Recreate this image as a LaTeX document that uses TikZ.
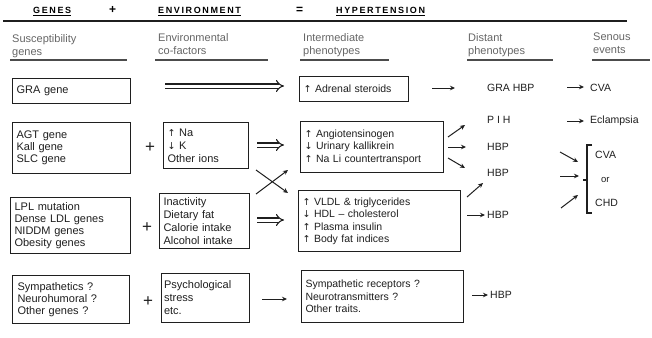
\documentclass[tikz,border=0pt]{standalone}
\usepackage{fontspec}
\setmainfont{Liberation Sans}
\newfontfamily\arrfont{DejaVu Sans}
\usetikzlibrary{arrows.meta}
\newcommand\uparr{{\arrfont\fontsize{9.5}{9.5}\selectfont ↑}}
\newcommand\dnarr{{\arrfont\fontsize{9.5}{9.5}\selectfont ↓}}
\definecolor{ink}{gray}{0.12}
\tikzset{
  box/.style={draw=ink, line width=1.1pt, anchor=north west, align=left, inner xsep=4pt, inner ysep=0pt, text=ink},
  colL/.style={font=\fontsize{11}{12.2}\selectfont},
  colM/.style={font=\fontsize{11}{13}\selectfont},
  colI/.style={font=\fontsize{10.5}{12.5}\selectfont},
  lbl/.style={anchor=west, inner sep=0pt, font=\fontsize{10.5}{12}\selectfont, text=ink},
  hd/.style={anchor=north west, align=left, inner sep=0pt, font=\fontsize{11}{13}\selectfont, text=black!60},
  ttl/.style={anchor=base west, inner sep=0pt, font={\fontsize{9}{10}\selectfont\bfseries\addfontfeatures{LetterSpace=18}}},
  tsym/.style={anchor=base west, inner sep=0pt, font={\fontsize{12}{12}\selectfont\bfseries}},
  plus/.style={inner sep=0pt, font=\fontsize{17}{17}\selectfont, text=ink},
  arr/.style={draw=ink, line width=1pt, -{Stealth[length=5pt,width=4.5pt]}},
  darr/.style={draw=ink, double, double distance=3pt, line width=1.1pt, -Implies},
  rulel/.style={draw=black!70, line width=1.2pt}
}
\begin{document}
\begin{tikzpicture}[x=1pt,y=-1pt]
\useasboundingbox (0,0) rectangle (652,337);
\fill[white] (0,0) rectangle (652,337);

% title row
\node[ttl] (genes) at (33,13.5) {\underline{GENES}};
\node[tsym] (tplus) at (109,14) {+};
\node[ttl] (env) at (158,13.5) {\underline{ENVIRONMENT}};
\node[tsym] (teq) at (296,14) {=};
\node[ttl] (hyp) at (336,13.5) {\underline{HYPERTENSION}};
\coordinate (r0) at (3,21);
\coordinate (r1) at (627,21);
\draw[line width=1.8pt, ink] (r0) -- (r1);

% column headers
\node[hd] (h1) at (12,34) {Susceptibility\\genes};
\node[hd] (h2) at (158,33) {Environmental\\co-factors};
\node[hd] (h3) at (303,33) {Intermediate\\phenotypes};
\node[hd] (h4) at (468,33) {Distant\\phenotypes};
\node[hd] (h5) at (593,33) {Senous\\events};
\draw[rulel] (10,60) -- (127,60);
\draw[rulel] (155,60) -- (268,60);
\draw[rulel] (300,60) -- (389,60);
\draw[rulel] (467,60) -- (553,60);
\draw[rulel] (592,60) -- (650,60);

% row 1
\node[box, colL, text width=110pt, minimum height=25pt] (gra) at (12,78) {GRA gene};
\node[box, colI, text width=101pt, minimum height=25pt] (adr) at (299,76) {\uparr\ Adrenal steroids};

% row 2
\node[box, colL, text width=110pt, minimum height=51pt] (agt) at (12,122) {AGT gene\\Kall gene\\SLC gene};
\node[plus] (p2) at (150,148) {+};
\node[box, colM, text width=77pt, minimum height=46pt] (na) at (163,122) {\uparr\ Na\\\dnarr\ K\\Other ions};
\node[box, colI, text width=135pt, minimum height=51pt] (ang) at (300,121) {\uparr\ Angiotensinogen\\\dnarr\ Urinary kallikrein\\\uparr\ Na Li countertransport};

% row 3
\node[box, colL, text width=112pt, minimum height=56pt] (lpl) at (10,197) {LPL mutation\\Dense LDL genes\\NIDDM genes\\Obesity genes};
\node[plus] (p3) at (147,228) {+};
\node[box, colM, text width=82pt, minimum height=55pt] (ina) at (159,193) {Inactivity\\Dietary fat\\Calorie intake\\Alcohol intake};
\node[box, colI, text width=154pt, minimum height=61pt] (vldl) at (298,190) {\uparr\ VLDL \& triglycerides\\\dnarr\ HDL -- cholesterol\\\uparr\ Plasma insulin\\\uparr\ Body fat indices};

% row 4
\node[box, colL, text width=107pt, minimum height=48pt, inner xsep=5pt] (sym) at (12,275) {Sympathetics ?\\Neurohumoral ?\\Other genes ?};
\node[plus] (p4) at (148,302) {+};
\node[box, colM, text width=83pt, minimum height=49pt, inner xsep=2.5pt] (psy) at (161,273) {Psychological\\stress\\etc.};
\node[box, colI, text width=154pt, minimum height=52pt] (rec) at (301,270) {Sympathetic receptors ?\\Neurotransmitters ?\\Other traits.};

% distant phenotypes
\node[lbl] (d1) at (487,88) {GRA HBP};
\node[lbl] (d2) at (487,120) {P I H};
\node[lbl] (d3) at (487,147) {HBP};
\node[lbl] (d4) at (487,173) {HBP};
\node[lbl] (d5) at (487,215) {HBP};
\node[lbl] (d6) at (490,295) {HBP};

% serious events
\node[lbl] (s1) at (590,88) {CVA};
\node[lbl] (s2) at (590,121) {Eclampsia};
\node[lbl] (s3) at (595,155) {CVA};
\node[lbl, font=\fontsize{9.5}{11}\selectfont] (s4) at (601,180) {or};
\node[lbl] (s5) at (595,203) {CHD};
\draw[line width=1.1pt, ink] (592,145) -- (587,145) -- (587,213) -- (592,213);
\draw[line width=1.1pt, ink] (583,180) -- (587,180);

% arrow end coordinates
\coordinate (g1) at (165,86);   \coordinate (g2) at (284,86);
\coordinate (a2s) at (257,145); \coordinate (a2e) at (284,145);
\coordinate (a3s) at (257,220); \coordinate (a3e) at (284,220);
\coordinate (a4s) at (262,299); \coordinate (a4e) at (287,299);
\coordinate (x1s) at (256,170); \coordinate (x1e) at (288,193);
\coordinate (x2s) at (256,194); \coordinate (x2e) at (288,170);
\coordinate (r1s) at (432,88);  \coordinate (r1e) at (455,88);
\coordinate (i1s) at (448,137); \coordinate (i1e) at (465,125);
\coordinate (i2s) at (448,147); \coordinate (i2e) at (466,147);
\coordinate (i3s) at (448,158); \coordinate (i3e) at (465,168);
\coordinate (v1s) at (467,197); \coordinate (v1e) at (483,183);
\coordinate (v2s) at (467,215); \coordinate (v2e) at (485,215);
\coordinate (y1s) at (472,295); \coordinate (y1e) at (488,295);
\coordinate (e1s) at (567,87);  \coordinate (e1e) at (584,87);
\coordinate (e2s) at (567,121); \coordinate (e2e) at (584,121);
\coordinate (b1s) at (560,152); \coordinate (b1e) at (578,162);
\coordinate (b2s) at (560,176); \coordinate (b2e) at (579,176);
\coordinate (b3s) at (561,208); \coordinate (b3e) at (578,195);

\draw[darr] (g1) -- (g2);
\draw[darr] (a2s) -- (a2e);
\draw[darr] (a3s) -- (a3e);
\draw[arr] (a4s) -- (a4e);
\draw[arr] (x1s) -- (x1e);
\draw[arr] (x2s) -- (x2e);
\draw[arr] (r1s) -- (r1e);
\draw[arr] (i1s) -- (i1e);
\draw[arr] (i2s) -- (i2e);
\draw[arr] (i3s) -- (i3e);
\draw[arr] (v1s) -- (v1e);
\draw[arr] (v2s) -- (v2e);
\draw[arr] (y1s) -- (y1e);
\draw[arr] (e1s) -- (e1e);
\draw[arr] (e2s) -- (e2e);
\draw[arr] (b1s) -- (b1e);
\draw[arr] (b2s) -- (b2e);
\draw[arr] (b3s) -- (b3e);
\end{tikzpicture}
\end{document}
